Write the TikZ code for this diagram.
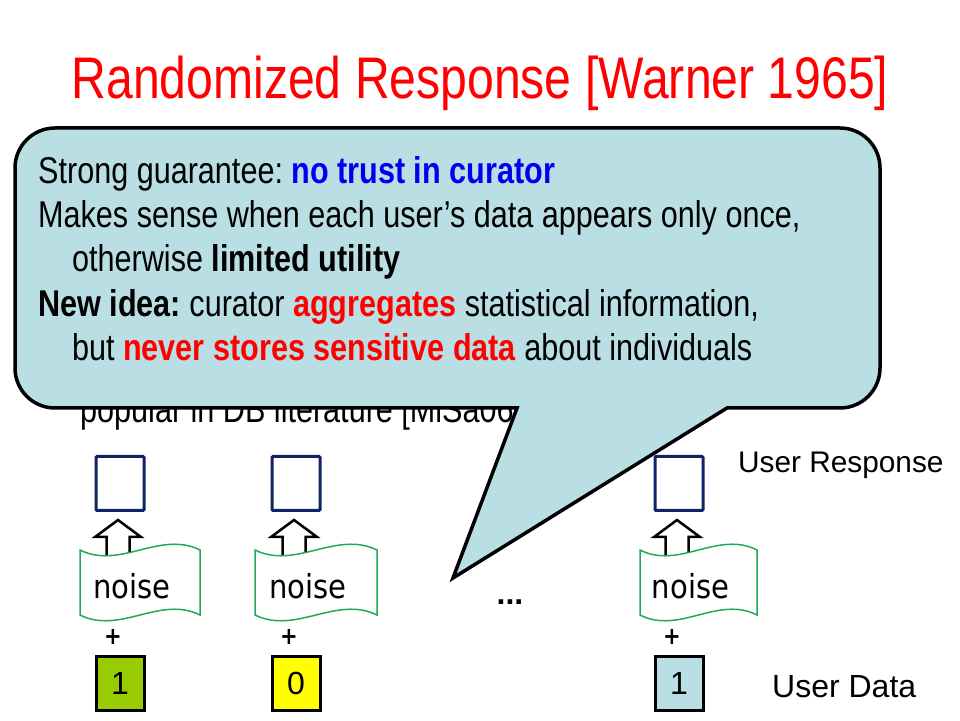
\documentclass[tikz,border=0pt]{standalone}
\usepackage{fontspec}
\setmainfont{Liberation Sans}
\newfontfamily\narrowfont[FakeStretch=0.82]{Liberation Sans}
\newfontfamily\comicfont[FakeStretch=0.88]{DejaVu Sans}
\definecolor{calloutfill}{RGB}{185,222,227}
\definecolor{titlered}{RGB}{255,0,0}
\definecolor{hiblue}{RGB}{0,0,240}
\definecolor{navybox}{RGB}{16,36,100}
\definecolor{wavegreen}{RGB}{30,170,90}
\definecolor{olive}{RGB}{153,204,0}
\definecolor{yel}{RGB}{255,255,0}
\frenchspacing
\begin{document}
\begin{tikzpicture}[x=1pt,y=1pt,
  bodytext/.style={anchor=base west, inner sep=0pt, font=\fontsize{37.3}{44}\selectfont\narrowfont\frenchspacing},
  respbox/.style={draw=navybox, line width=3pt, minimum width=48pt, minimum height=54pt, inner sep=0pt, rounded corners=1pt},
  databox/.style={draw=black, line width=3pt, minimum width=48pt, minimum height=54pt, inner sep=0pt, font=\fontsize{32}{36}\selectfont},
  wavebox/.style={draw=wavegreen, line width=1.5pt, fill=white},
  blockarrow/.style={draw=black, line width=2.5pt, fill=white, line join=miter},
  noiselabel/.style={anchor=base, inner sep=0pt, font=\fontsize{33}{36}\selectfont\comicfont},
  plussign/.style={inner sep=0pt, font=\fontsize{24}{26}\selectfont\comicfont\bfseries},
  callout/.style={draw=black, line width=3.5pt, fill=calloutfill, line join=miter}
]
\useasboundingbox (0,0) rectangle (960,720);

% title
\node[anchor=base, inner sep=0pt, text=titlered, font=\fontsize{58.7}{70}\selectfont\narrowfont] (title) at (480,621) {Randomized Response [Warner 1965]};

% hidden text behind callout
\node[bodytext] (hidden) at (80,297) {popular in DB literature [MiSa06]};

% block arrows (under the noise flags)
\foreach \cx/\n in {118/1, 294/2, 677/3} {
  \draw[blockarrow] (\cx,200) -- (\cx+23,183) -- (\cx+11.5,183) -- (\cx+11.5,160) -- (\cx-11.5,160) -- (\cx-11.5,183) -- (\cx-23,183) -- cycle;
}

% noise flags
\foreach \L/\R/\n in {80/200/1, 255/377/2, 640/757/3} {
  \pgfmathsetmacro\w{\R-\L}
  \draw[wavebox] (\L,170) .. controls ({\L+\w/3},150) and ({\L+2*\w/3},190) .. (\R,170)
     -- (\R,105) .. controls ({\R-\w/3},125) and ({\R-2*\w/3},85) .. (\L,105) -- cycle;
  \node[noiselabel] (noise\n) at ({(\L+\R)/2-8},122) {noise};
}

% response boxes
\node[respbox] (r1) at (120,236.5) {};
\node[respbox] (r2) at (296,236.5) {};
\node[respbox] (r3) at (679,236.5) {};

% plus signs
\node[plussign] (p1) at (113,83) {+};
\node[plussign] (p2) at (289,83) {+};
\node[plussign] (p3) at (672,83) {+};

% data boxes
\node[databox, fill=olive] (d1) at (120,36.5) {1};
\node[databox, fill=yel] (d2) at (296,36.5) {0};
\node[databox, fill=calloutfill] (d3) at (679,36.5) {1};

% dots
\node[anchor=base, inner sep=0pt, font=\fontsize{32}{36}\selectfont\bfseries] (dots) at (510,116) {...};

% side labels
\node[anchor=base west, inner sep=0pt, font=\fontsize{29.8}{34}\selectfont] (resplabel) at (738,247) {User Response};
\node[anchor=base west, inner sep=0pt, font=\fontsize{32}{36}\selectfont] (datalabel) at (772,23) {User Data};

% callout
\draw[callout] (55,592) -- (840,592) arc[start angle=90, end angle=0, radius=40]
  -- (880,352) arc[start angle=0, end angle=-90, radius=40]
  -- (727,312) -- (453,142) -- (517,312)
  -- (55,312) arc[start angle=270, end angle=180, radius=40]
  -- (15,552) arc[start angle=180, end angle=90, radius=40] -- cycle;

\node[bodytext] (l1) at (38,536.7) {Strong guarantee: \textcolor{hiblue}{\bfseries no trust in curator}};
\node[bodytext] (l2) at (38,492.5) {Makes sense when each user’s data appears only once,};
\node[bodytext] (l3) at (72,448.5) {otherwise \textbf{limited utility}};
\node[bodytext] (l4) at (38,403.5) {\textbf{New idea:} curator \textcolor{titlered}{\bfseries aggregates} statistical information,};
\node[bodytext] (l5) at (72,359.3) {but \textcolor{titlered}{\bfseries never stores sensitive data} about individuals};
\end{tikzpicture}
\end{document}
